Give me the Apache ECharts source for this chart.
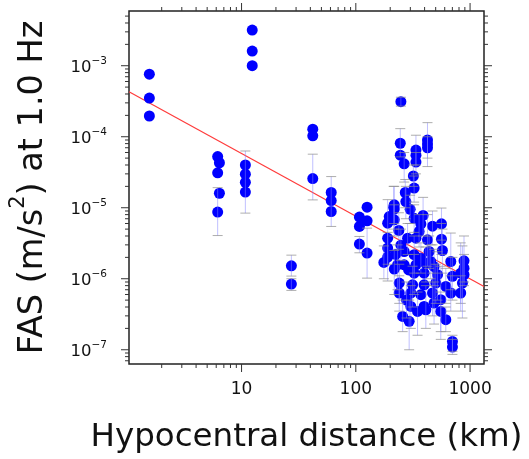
<!DOCTYPE html>
<html><head><meta charset="utf-8">
<script src="https://cdn.jsdelivr.net/npm/echarts@6/dist/echarts.min.js"></script>
<style>html,body{margin:0;padding:0;background:#fff}#c{width:529px;height:459px}</style>
</head><body><div id="c"></div>
<script>
// Hypocentral distance (km)
const distKm = [1.56,1.56,1.56,6.18,6.4,6.18,6.4,6.18,10.8,10.8,10.8,10.8,12.4,12.4,12.4,27.3,27.3,42,42,42,60.9,60.9,60.9,107.5,125.5,125.5,107.5,107.5,125.5,
248,245,245,265,319,336,336,336,424,424,424,324,271,274,299,214.5,324,388,196,190,217,562,562,190,358,284,336,424,190,265,324,438,190,678,885,232,336,371,217,484,217,265,410,240,240,324,396,519,701,828,314,396,501,678,828,303,371,469,554,303,396,484,347,554,613,257,293,410,701,701,857,885,885,573,238,469,217,
176,223,248,452,290,613,278,371];
// FAS at 1.0 Hz (m/s^2)
const fasVal = [7.6e-4,3.5e-4,1.96e-4,5.25e-5,4.3e-5,3.1e-5,1.6e-5,8.7e-6,4.0e-5,2.97e-5,2.28e-5,1.66e-5,3.18e-3,1.61e-3,1.0e-3,1.52e-6,8.4e-7,1.28e-4,1.03e-4,2.58e-5,1.64e-5,1.26e-5,8.85e-6,7.4e-6,1.02e-5,6.55e-6,5.45e-6,3.08e-6,2.3e-6,
3.12e-4,8.1e-5,5.5e-5,4.15e-5,2.8e-5,6.5e-5,5.5e-5,4.4e-5,9.0e-5,7.9e-5,7.0e-5,1.89e-5,1.64e-5,1.22e-5,9.5e-6,1.02e-5,7.1e-6,7.8e-6,7.5e-6,6.07e-6,6.76e-6,5.94e-6,3.61e-6,3.73e-6,4.63e-6,3.73e-6,3.73e-6,3.53e-6,2.7e-6,2.42e-6,2.18e-6,2.42e-6,2.02e-6,1.75e-6,1.79e-6,1.57e-6,1.57e-6,1.95e-6,1.1e-5,1.48e-6,1.37e-6,1.57e-6,1.63e-6,8.7e-7,6.3e-7,1.2e-6,1.2e-6,1.14e-6,1.08e-6,1.2e-6,8.2e-7,8.2e-7,8.7e-7,6.3e-7,6.3e-7,6.3e-7,5.96e-7,6.3e-7,5.07e-7,4.07e-7,4.07e-7,4.55e-7,3.47e-7,3.47e-7,2.65e-7,2.95e-7,2.51e-7,3.66e-7,1.31e-7,1.09e-7,8.7e-7,1.41e-6,1.14e-6,2.5e-6,4.8e-6,5.5e-6,9.6e-6,
1.7e-6,2.2e-6,2.97e-6,1.75e-6,1.33e-6,7.8e-7,5.0e-7,5.9e-6];
// error bar lower / upper bounds (null = no visible bar)
const errLow = [null,null,null,null,null,null,null,4.06e-6,null,null,8.4e-6,null,null,null,null,1.09e-6,6.85e-7,null,null,1.29e-5,null,5.45e-6,null,null,null,null,null,2.32e-6,1.02e-6,
2.7e-4,5.2e-5,null,2.3e-5,2.0e-5,4.0e-5,null,3.0e-5,3.8e-5,null,5.0e-5,1.2e-5,1.0e-5,7e-6,6e-6,5e-6,4.5e-6,4e-6,null,null,4e-6,3.5e-6,2.2e-6,9.3e-7,2.8e-6,2.2e-6,null,1.5e-6,1.6e-6,null,1.2e-6,1.4e-6,null,7e-7,8e-7,7e-7,null,1.2e-6,6e-6,8e-7,6e-7,null,9e-7,4.5e-7,3.5e-7,6e-7,null,5e-7,5e-7,4.5e-7,4e-7,null,4.5e-7,3.5e-7,3.5e-7,null,null,3e-7,1.4e-7,2e-7,null,2.3e-7,1.6e-7,1.8e-7,1.8e-7,1.8e-7,1.0e-7,2e-7,9.5e-8,8.6e-8,2.8e-7,9e-7,null,1.2e-6,2.6e-6,3e-6,null,
1.0e-6,null,1.8e-6,1.0e-6,null,4.5e-7,2.8e-7,null];
const errHigh = [null,null,null,null,null,null,null,1.92e-5,null,null,6.3e-5,null,null,null,null,2.15e-6,1.0e-6,null,null,5.68e-5,null,2.75e-5,null,null,null,null,null,3.94e-6,5.16e-6,
3.6e-4,1.3e-4,null,6.0e-5,4.0e-5,1.05e-4,null,6.0e-5,1.58e-4,null,1.0e-4,2.8e-5,2.5e-5,2e-5,1.5e-5,2e-5,1.1e-5,1.4e-5,null,null,1.1e-5,9.9e-6,6e-6,1.3e-5,8e-6,6e-6,null,8e-6,4.5e-6,null,4e-6,4e-6,null,4.4e-6,4e-6,3e-6,null,3.2e-6,2e-5,2.6e-6,2.5e-6,null,2.8e-6,1.6e-6,1.1e-6,2.2e-6,null,2.4e-6,2e-6,3.2e-6,1.5e-6,null,1.6e-6,1.1e-6,1.1e-6,null,null,1.2e-6,1.5e-6,8e-7,null,9e-7,6.5e-7,6.5e-7,4e-7,5e-7,5e-7,8e-7,1.6e-7,1.4e-7,2.9e-6,2.2e-6,null,5e-6,8.5e-6,9e-6,null,
2.9e-6,null,5e-6,3e-6,null,1.4e-6,9e-7,null];
// fitted line end points (read at the frame edges)
const fitX = [1.035, 1324];
const fitY = [4.3e-4, 7.8e-7];
// axis ranges and tick labels
const xRange = [1.035, 1324];
const yRange = [6.3e-8, 5.9e-3];
const xTickLabels = [10, 100, 1000];
const yTickLabels = [1e-7, 1e-6, 1e-5, 1e-4, 1e-3];

const FONT = 'DejaVu Sans';
const isPow = v => Math.abs(Math.log10(v) - Math.round(Math.log10(v))) < 1e-6;

function minorTicks(r) {
  const out = [];
  for (let d = Math.floor(Math.log10(r[0])); d <= Math.ceil(Math.log10(r[1])); d++) {
    for (let k = 2; k <= 9; k++) { const v = k * Math.pow(10, d); if (v > r[0] && v < r[1]) out.push(v); }
  }
  return out;
}
const xMinor = minorTicks(xRange), yMinor = minorTicks(yRange);

const scatterData = distKm.map((d, i) => [d, fasVal[i]]);
const errData = [];
distKm.forEach((d, i) => { if (errLow[i] != null) errData.push([d, errLow[i], errHigh[i]]); });

const chart = echarts.init(document.getElementById('c'), null, {renderer: 'canvas'});
const TICK = '#333';
chart.setOption({
  animation: false,
  grid: {left: 127, right: 45, top: 11, bottom: 94, show: true, borderColor: '#222', borderWidth: 1.5, backgroundColor: 'transparent'},
  xAxis: {
    type: 'log', min: xRange[0], max: xRange[1],
    axisLine: {show: false}, axisTick: {show: false}, splitLine: {show: false},
    axisLabel: {margin: 17, fontFamily: FONT, fontSize: 17, color: '#111',
      formatter: v => (isPow(v) && xTickLabels.some(t => Math.abs(t - v) / t < 1e-6)) ? String(Math.round(v)) : ''},
    name: 'Hypocentral distance (km)', nameLocation: 'middle', nameGap: 57,
    nameTextStyle: {fontFamily: FONT, fontSize: 32.5, color: '#111'}
  },
  yAxis: {
    type: 'log', min: yRange[0], max: yRange[1],
    axisLine: {show: false}, axisTick: {show: false}, splitLine: {show: false},
    axisLabel: {margin: 22, color: '#111',
      formatter: v => {
        if (!isPow(v) || !yTickLabels.some(t => Math.abs(t - v) / t < 1e-6)) return '';
        return '{b|10}{s|\u2212' + (-Math.round(Math.log10(v))) + '}';
      },
      rich: {
        b: {fontFamily: FONT, fontSize: 16.5, color: '#111', padding: [3, 0, 0, 0], verticalAlign: 'bottom'},
        s: {fontFamily: FONT, fontSize: 10.5, color: '#111', verticalAlign: 'top'}
      }},
    name: '{t|FAS (m/s}{p|2}{t|) at 1.0 Hz}', nameLocation: 'middle', nameGap: 79, nameRotate: 90,
    nameTextStyle: {rich: {
      t: {fontFamily: FONT, fontSize: 33.5, color: '#111', padding: [8, 0, 0, 0], verticalAlign: 'bottom'},
      p: {fontFamily: FONT, fontSize: 21, color: '#111', verticalAlign: 'top'}
    }}
  },
  series: [
    {
      type: 'line', data: fitX.map((x, i) => [x, fitY[i]]), symbol: 'none',
      lineStyle: {color: '#ff3b3b', width: 1.2}, z: 3, silent: true
    },
    {
      type: 'scatter', data: scatterData, symbol: 'circle', symbolSize: 11,
      itemStyle: {color: '#0000ff', opacity: 1}, z: 4, silent: true
    },
    {
      type: 'custom', data: errData, z: 5, silent: true, clip: false,
      encode: {x: 0, y: [1, 2]},
      renderItem: (params, api) => {
        const x = api.value(0);
        const p1 = api.coord([x, api.value(1)]);
        const p2 = api.coord([x, api.value(2)]);
        const hw = 5;
        return {type: 'group', children: [
          {type: 'line', shape: {x1: p1[0], y1: p1[1], x2: p2[0], y2: p2[1]}, style: {stroke: 'rgba(130,130,255,0.5)', lineWidth: 1}},
          {type: 'line', shape: {x1: p1[0] - hw, y1: p1[1], x2: p1[0] + hw, y2: p1[1]}, style: {stroke: 'rgba(140,140,140,0.7)', lineWidth: 1}},
          {type: 'line', shape: {x1: p2[0] - hw, y1: p2[1], x2: p2[0] + hw, y2: p2[1]}, style: {stroke: 'rgba(140,140,140,0.7)', lineWidth: 1}}
        ]};
      }
    },
    {
      type: 'custom', data: [[xRange[0], yRange[0]]], z: 6, silent: true, clip: false,
      renderItem: (params, api) => {
        const ch = [];
        const add = (x1, y1, x2, y2) => ch.push({type: 'line', shape: {x1, y1, x2, y2}, style: {stroke: TICK, lineWidth: 1}});
        const yb = api.coord([xRange[0], yRange[0]])[1], yt = api.coord([xRange[0], yRange[1]])[1];
        const xl = api.coord([xRange[0], yRange[0]])[0], xr = api.coord([xRange[1], yRange[0]])[0];
        xTickLabels.forEach(v => { const x = api.coord([v, yRange[0]])[0]; add(x, yb, x, yb + 8); add(x, yt, x, yt - 8); });
        xMinor.forEach(v => { const x = api.coord([v, yRange[0]])[0]; add(x, yb, x, yb + 4); add(x, yt, x, yt - 4); });
        yTickLabels.forEach(v => { const y = api.coord([xRange[0], v])[1]; add(xl, y, xl - 8, y); add(xr, y, xr + 8, y); });
        yMinor.forEach(v => { const y = api.coord([xRange[0], v])[1]; add(xl, y, xl - 4, y); add(xr, y, xr + 4, y); });
        return {type: 'group', children: ch};
      }
    }
  ]
});
</script></body></html>
